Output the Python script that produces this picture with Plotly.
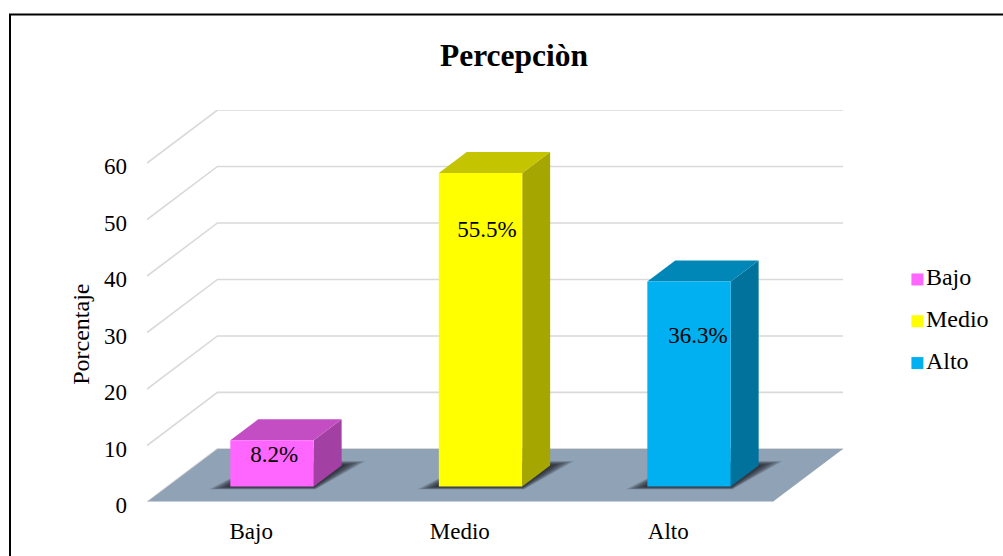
import plotly.graph_objects as go

categories = ["Bajo", "Medio", "Alto"]
values = [8.2, 55.5, 36.3]
value_labels = ["8.2%", "55.5%", "36.3%"]
y_ticks = [0, 10, 20, 30, 40, 50, 60]
front_colors = ["#FF66FF", "#FFFF00", "#00B0F0"]
top_colors = ["#C34EC3", "#C4C400", "#0087B8"]
side_colors = ["#A340A3", "#A6A600", "#00729C"]
# label placement along each bar (height above the bar base; sideways shift in categories)
label_heights = [5.4, 45.2, 26.4]
label_shifts = [0.01, 0.031, 0.043]
# key rows, in value units of the chart axis
legend_rows = [39.4, 32.0, 24.6]

FONT = "Liberation Serif"
FS = 23
DEPTH_X = 0.338          # horizontal run of the floor, in category widths
DEPTH_Y = 9.4            # vertical rise of the floor, in value units
BAR_HALF = 0.2
BAR_SHIFT = 0.0017
D0, D1 = 0.29, 0.686     # depth span of the bars
GRID = "#D9D9D9"
X_MAX = 856 / 208.5


def project(cat, value, depth):
    return cat + depth * DEPTH_X, value + depth * DEPTH_Y


def poly(points, color, opacity=1.0):
    pts = [project(*p) for p in points + points[:1]]
    return go.Scatter(x=[p[0] for p in pts], y=[p[1] for p in pts], mode="lines",
                      line=dict(width=0), fill="toself", fillcolor=color, opacity=opacity,
                      hoverinfo="skip", showlegend=False)


def path(points, color, width):
    pts = [project(*p) for p in points]
    return go.Scatter(x=[p[0] for p in pts], y=[p[1] for p in pts], mode="lines",
                      line=dict(color=color, width=width), hoverinfo="skip", showlegend=False)


n = len(categories)
fig = go.Figure()

# walls
for v in y_ticks:
    fig.add_trace(path([(0, v, 0), (0, v, 1), (n, v, 1)], GRID, 1.6))

# floor
fig.add_trace(poly([(0, 0, 0), (n, 0, 0), (n, 0, 1), (0, 0, 1)], "#8FA2B6"))
fig.add_trace(path([(0, 0, 0), (n, 0, 0)], "#DADFE4", 1.6))

# bars with soft shadows
for i, v in enumerate(values):
    c = i + 0.5 + BAR_SHIFT
    l, r = c - BAR_HALF, c + BAR_HALF
    for e in range(1, 15):
        ex = 0.0062 * e
        ed = 0.0062 * e
        fig.add_trace(poly([(l - ex, 0, D0 - ed * 0.6), (r + ex * 0.3, 0, D0 - ed * 0.6),
                            (r + ex, 0, D1 + ed), (l, 0, D1 + ed)], "#15151C", 0.09))
    fig.add_trace(poly([(r, 0, D0), (r, 0, D1), (r, v, D1), (r, v, D0)], side_colors[i]))
    fig.add_trace(poly([(l, v, D0), (r, v, D0), (r, v, D1), (l, v, D1)], top_colors[i]))
    fig.add_trace(poly([(l, 0, D0), (r, 0, D0), (r, v, D0), (l, v, D0)], front_colors[i]))

# value labels
lab = [project(i + 0.5 + BAR_SHIFT + label_shifts[i], label_heights[i], D0) for i in range(n)]
fig.add_trace(go.Scatter(x=[p[0] for p in lab], y=[p[1] for p in lab], mode="text",
                         text=value_labels, textposition="middle center",
                         textfont=dict(family=FONT, size=FS, color="#000000"),
                         hoverinfo="skip", showlegend=False))

# key
for i, name in enumerate(categories):
    fig.add_trace(go.Scatter(x=[3.695], y=[legend_rows[i]], mode="markers+text", name=name,
                             marker=dict(symbol="square", size=12, color=front_colors[i]),
                             text=[name], textposition="middle right", cliponaxis=False,
                             textfont=dict(family=FONT, size=24, color="#000000"),
                             hoverinfo="skip", showlegend=False))

fig.update_layout(
    width=1003, height=556,
    margin=dict(l=147, r=0, t=109.5, b=54),
    paper_bgcolor="#FFFFFF", plot_bgcolor="rgba(0,0,0,0)",
    showlegend=False,
    title=dict(text="<b>Percepciòn</b>", x=514 / 1003, y=1 - 55 / 556, xanchor="center", yanchor="middle",
               font=dict(family=FONT, size=31.5, color="#000000")),
    xaxis=dict(range=[0, X_MAX], tickvals=[i + 0.5 for i in range(n)], ticktext=categories,
               showgrid=False, zeroline=False, showline=False, ticks="",
               ticklabelstandoff=13, tickfont=dict(family=FONT, size=FS, color="#000000")),
    yaxis=dict(range=[0, 60 + DEPTH_Y], tickvals=y_ticks, showgrid=False, zeroline=False,
               showline=False, ticks="", ticklabelstandoff=19, ticklabelshift=3,
               tickfont=dict(family=FONT, size=FS, color="#000000")),
    annotations=[dict(text="Porcentaje", textangle=-90, xref="paper", yref="y",
                      x=-66 / 856, y=29.6, showarrow=False, xanchor="center", yanchor="middle",
                      font=dict(family=FONT, size=24, color="#000000"))],
    shapes=[dict(type="rect", xref="paper", yref="paper", layer="below",
                 x0=-137 / 856, x1=870 / 856, y0=-0.2, y1=1 + 95.5 / 392.5,
                 line=dict(color="#000000", width=2), fillcolor="rgba(0,0,0,0)")],
)

fig.write_html("out.html", config={"displayModeBar": False},
               post_script="document.body.style.margin='0';document.body.style.overflow='hidden';")
